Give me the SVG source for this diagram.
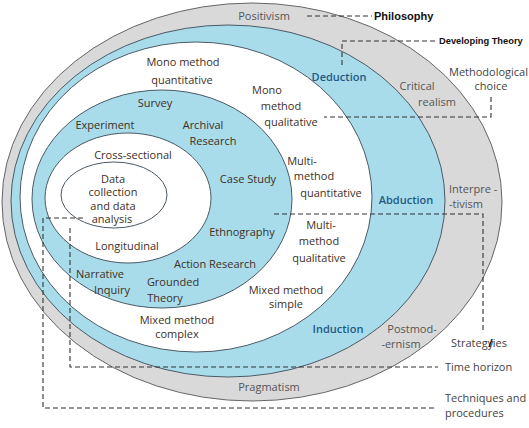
<svg xmlns="http://www.w3.org/2000/svg" width="529" height="428" viewBox="0 0 529 428">
<style>
.ring{stroke:#4a5a66;stroke-width:1}
.gray{fill:#d9d9d9;stroke:#666}
.blue{fill:#a9dcea}
.white{fill:#ffffff}
text{font-family:"Open Sans","Noto Sans",sans-serif;font-size:11px;text-anchor:middle}
.in{fill:#3e2f25}
.ph{fill:#555555}
.ap{fill:#1f5a85;font-weight:600}
.out{fill:#444444;text-anchor:start}
.bold{font-family:"Liberation Sans",Arial,sans-serif;font-weight:bold;fill:#111;text-anchor:start}
.dash{fill:none;stroke:#333;stroke-width:1.1;stroke-dasharray:5 3}
</style>
<rect width="529" height="428" fill="#ffffff"/>
<g id="philosophy">
<ellipse class="ring gray" cx="252" cy="202" rx="250" ry="199"/>
<text class="ph" x="264" y="20">Positivism</text>
<text class="ph" x="417" y="90">Critical</text>
<text class="ph" x="437" y="106">realism</text>
<text class="ph" x="449" y="193" style="text-anchor:start">Interpre -</text>
<text class="ph" x="449" y="208" style="text-anchor:start">-tivism</text>
<text class="ph" x="412" y="333">Postmod-</text>
<text class="ph" x="401" y="348">-ernism</text>
<text class="ph" x="269" y="391">Pragmatism</text>
</g>
<g id="approach">
<ellipse class="ring blue" cx="228" cy="201" rx="217" ry="176"/>
<text class="ap" x="339" y="81">Deduction</text>
<text class="ap" x="406" y="204">Abduction</text>
<text class="ap" x="338" y="333">Induction</text>
</g>
<g id="methodological-choice">
<ellipse class="ring white" cx="196" cy="197" rx="176" ry="155"/>
<text class="in" x="183" y="66">Mono method</text>
<text class="in" x="182" y="84">quantitative</text>
<text class="in" x="267" y="94">Mono</text>
<text class="in" x="281" y="110">method</text>
<text class="in" x="291" y="126">qualitative</text>
<text class="in" x="302" y="165">Multi-</text>
<text class="in" x="314" y="180">method</text>
<text class="in" x="331" y="197">quantitative</text>
<text class="in" x="321" y="229">Multi-</text>
<text class="in" x="319" y="245">method</text>
<text class="in" x="319" y="262">qualitative</text>
<text class="in" x="286" y="294">Mixed method</text>
<text class="in" x="286" y="308">simple</text>
<text class="in" x="177" y="324">Mixed method</text>
<text class="in" x="177" y="338">complex</text>
</g>
<g id="strategies">
<ellipse class="ring blue" cx="162" cy="199" rx="130" ry="109"/>
<text class="in" x="155" y="107">Survey</text>
<text class="in" x="105" y="129">Experiment</text>
<text class="in" x="203" y="129">Archival</text>
<text class="in" x="213" y="145">Research</text>
<text class="in" x="248" y="183">Case Study</text>
<text class="in" x="242" y="236">Ethnography</text>
<text class="in" x="215" y="268">Action Research</text>
<text class="in" x="100" y="278">Narrative</text>
<text class="in" x="112" y="294">Inquiry</text>
<text class="in" x="173" y="286">Grounded</text>
<text class="in" x="165" y="302">Theory</text>
</g>
<g id="time-horizon">
<ellipse class="ring white" cx="128" cy="198" rx="83" ry="65"/>
<text class="in" x="133" y="159">Cross-sectional</text>
<text class="in" x="127" y="250">Longitudinal</text>
</g>
<g id="data-collection">
<ellipse class="ring white" cx="114" cy="195" rx="53" ry="33"/>
<text class="in" x="113" y="183">Data</text>
<text class="in" x="113" y="196">collection</text>
<text class="in" x="113" y="210">and data</text>
<text class="in" x="112" y="223">analysis</text>
</g>
<g id="connectors">
<path class="dash" d="M307 16H372"/>
<path class="dash" d="M342 65V41H438"/>
<path class="dash" d="M491 97V117H324"/>
<path class="dash" d="M274 214H483V333"/>
<path class="dash" d="M70 228V367H438"/>
<path class="dash" d="M83 218H43V408H437"/>
</g>
<g id="labels">
<text class="bold" x="374" y="20" style="font-size:11px">Philosophy</text>
<text class="bold" x="439" y="44" style="font-size:9.3px">Developing Theory</text>
<text class="out" x="449" y="76">Methodological</text>
<text class="out" x="491" y="90" style="text-anchor:middle">choice</text>
<text class="out" x="451" y="347">Strategy<tspan dx="-5" fill="#111" font-weight="bold">/</tspan>ies</text>
<text class="out" x="445" y="371">Time horizon</text>
<text class="out" x="445" y="402">Techniques and</text>
<text class="out" x="445" y="417">procedures</text>
</g>
</svg>
